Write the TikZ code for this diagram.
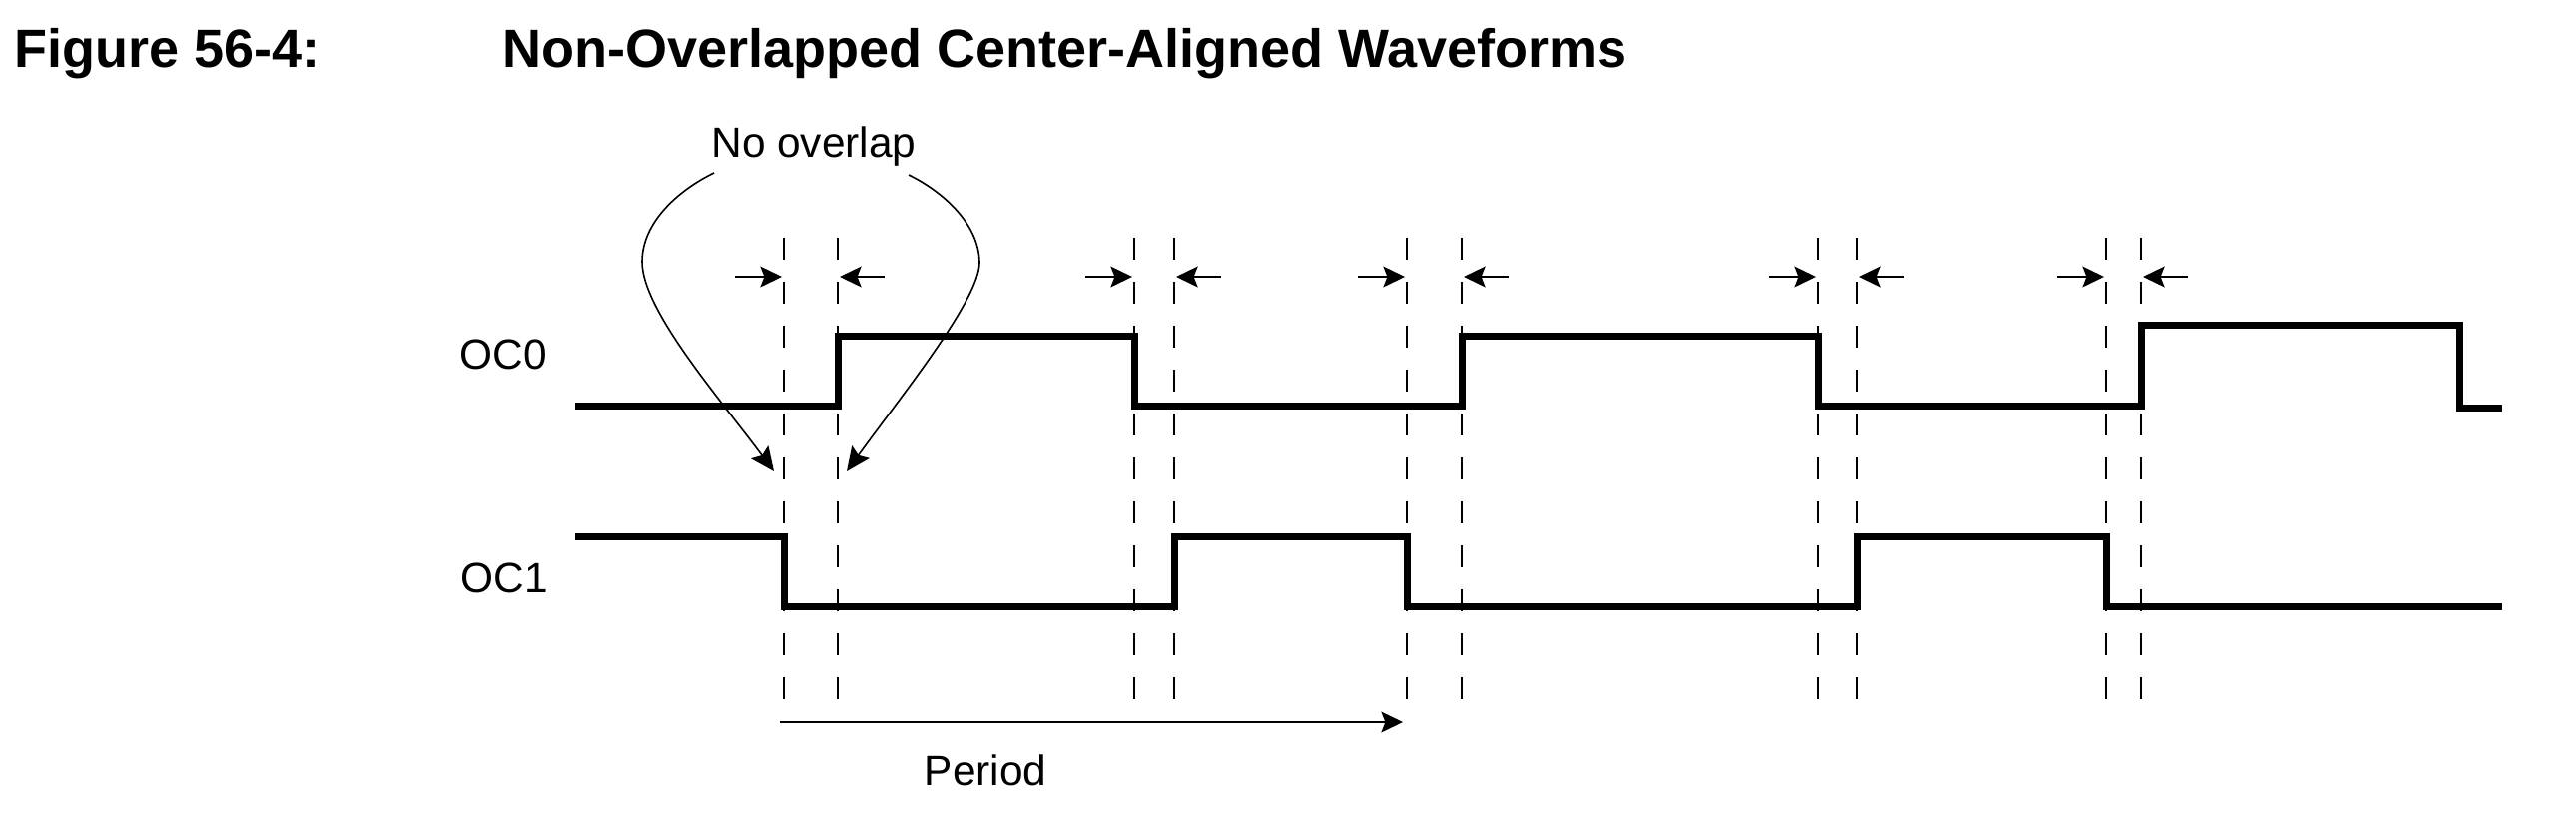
\documentclass[tikz,border=0pt]{standalone}
\usepackage{fontspec}
\setmainfont{Liberation Sans}
\usetikzlibrary{arrows.meta}
\begin{document}
\begin{tikzpicture}[x=0.25pt, y=-0.25pt,
  wave/.style={line width=1.75pt, line join=miter, line cap=butt},
  guide/.style={line width=0.5pt, dash pattern=on 5.5pt off 5.5pt},
  gaparrow/.style={line width=0.5pt, -{Stealth[length=5.4pt,width=5.2pt,inset=1pt]}},
  callout/.style={line width=0.4pt, -{Stealth[length=6pt,width=5.4pt,inset=1pt]}},
  lbl/.style={font=\fontsize{10.6pt}{12pt}\selectfont, inner sep=0pt, anchor=base},
  ttl/.style={font=\fontsize{13.5pt}{16pt}\selectfont\bfseries, inner sep=0pt, anchor=base west}]
\useasboundingbox (0,0) rectangle (2580,828);

% titles
\node[ttl] (fignum) at (14,67) {Figure 56-4:};
\node[ttl] (figtitle) at (503,67) {Non-Overlapped Center-Aligned Waveforms};

% labels
\node[lbl] (nooverlap) at (815,157) {No overlap};
\node[lbl] (oc0) at (504,369) {OC0};
\node[lbl] (oc1) at (505,593) {OC1};
\node[lbl] (period) at (987,786) {Period};

% dashed guides
\foreach \gx in {785,839,1136,1176,1409,1464,1821,1860,2109,2144}
  \draw[guide] (\gx,238) -- (\gx,702);

% gap arrows
\foreach \ga/\gb in {785/839,1136/1176,1409/1464,1821/1860,2109/2144}{
  \draw[gaparrow] ({\ga-49},277) -- ({\ga-2},277);
  \draw[gaparrow] ({\gb+47},277) -- ({\gb+2},277);
}

% waveforms
\draw[wave] (576,406) -- (839,406) -- (839,336) -- (1136,336) -- (1136,406)
  -- (1464,406) -- (1464,336) -- (1821,336) -- (1821,406) -- (2144,406)
  -- (2144,325) -- (2463,325) -- (2463,408) -- (2506,408);
\draw[wave] (576,537) -- (785,537) -- (785,607) -- (1176,607) -- (1176,537)
  -- (1409,537) -- (1409,607) -- (1860,607) -- (1860,537) -- (2109,537)
  -- (2109,607) -- (2506,607);

% callout curves
\coordinate (lstart) at (715,173);
\coordinate (ltip) at (775,472);
\coordinate (rstart) at (910,175);
\coordinate (rtip) at (848,472);
\draw[callout] (lstart) .. controls (680,190) and (643,222) .. (643,262)
  .. controls (643,310) and (720,398) .. (ltip);
\draw[callout] (rstart) .. controls (945,192) and (981,225) .. (981,263)
  .. controls (981,300) and (900,400) .. (rtip);

% period arrow
\coordinate (pstart) at (781,723);
\coordinate (pend) at (1405,723);
\draw[gaparrow] (pstart) -- (pend);
\end{tikzpicture}
\end{document}
